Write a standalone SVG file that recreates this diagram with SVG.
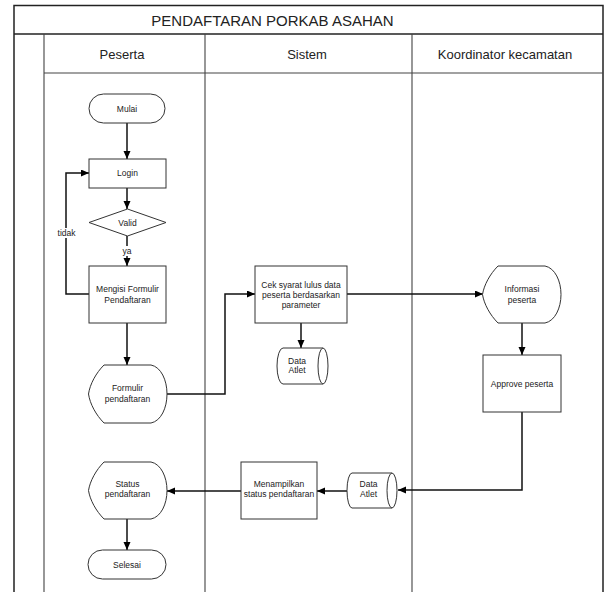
<svg xmlns="http://www.w3.org/2000/svg" width="606" height="592" viewBox="0 0 606 592">
<defs>
<marker id="arr" markerUnits="userSpaceOnUse" markerWidth="9" markerHeight="8" refX="8" refY="3.5" orient="auto">
<path d="M0,0 L8,3.5 L0,7 Z" fill="#000"/>
</marker>
<style>
.frame{fill:none;stroke:#222;stroke-width:1.5}
.lane{fill:none;stroke:#444;stroke-width:1.1}
.shape{fill:#fff;stroke:#333;stroke-width:1}
.con{fill:none;stroke:#111;stroke-width:1.5;marker-end:url(#arr)}
.t{font-family:"Liberation Sans",Arial,sans-serif;font-size:8.5px;fill:#222;text-anchor:middle}
.h{font-family:"Liberation Sans",Arial,sans-serif;font-size:13px;fill:#222;text-anchor:middle}
.ttl{font-family:"Liberation Sans",Arial,sans-serif;font-size:15px;fill:#222;text-anchor:middle}
</style>
</defs>
<rect width="606" height="592" fill="#fff"/>
<g id="pool">
<path class="frame" d="M14,600 V5.5 H603 V600"/>
<path class="frame" d="M14,34 H603"/>
<path class="lane" d="M44,34 V600 M205,34 V600 M412,34 V600 M44,73 H603"/>
<text class="ttl" x="272.5" y="26">PENDAFTARAN PORKAB ASAHAN</text>
<text class="h" x="122" y="58.5">Peserta</text>
<text class="h" x="307" y="58.5">Sistem</text>
<text class="h" x="505" y="58.5">Koordinator kecamatan</text>
</g>
<g id="connectors">
<path class="con" d="M127,123 V159"/>
<path class="con" d="M127,188 V209"/>
<path class="con" d="M127,236 V266"/>
<path class="con" d="M89,294 H66 V173 H89"/>
<path class="con" d="M127,323 V365"/>
<path class="con" d="M167,394 H225 V294 H255"/>
<path class="con" d="M301,323 V348"/>
<path class="con" d="M347,294 H483"/>
<path class="con" d="M522,323 V355"/>
<path class="con" d="M522,412 V490 H398"/>
<path class="con" d="M347,491 H317"/>
<path class="con" d="M241,491 H167"/>
<path class="con" d="M127,519 V550"/>
<rect x="55" y="228" width="23" height="10" fill="#fff"/>
<text class="t" x="66.5" y="236">tidak</text>
<rect x="121" y="246" width="12" height="10" fill="#fff"/>
<text class="t" x="127" y="253.5">ya</text>
</g>
<g id="mulai">
<rect class="shape" x="89" y="94" width="76" height="29" rx="14.5"/>
<text class="t" x="127" y="112">Mulai</text>
</g>
<g id="login">
<rect class="shape" x="89" y="159" width="77" height="29"/>
<text class="t" x="127.5" y="176">Login</text>
</g>
<g id="valid">
<path class="shape" d="M127.5,209 L166,222.5 L127.5,236 L89,222.5 Z"/>
<text class="t" x="127.5" y="225.5">Valid</text>
</g>
<g id="mengisi">
<rect class="shape" x="89" y="266" width="77" height="57"/>
<text class="t" x="127.5" y="292.3">Mengisi Formulir</text>
<text class="t" x="127.5" y="303">Pendaftaran</text>
</g>
<g id="formulir">
<path class="shape" d="M104,365 L151,365 C161,367 167,380 167,394 C167,408 161,421 151,423 L104,423 C96,415 90,404 88.5,394 C90,384 96,373 104,365 Z"/>
<text class="t" x="127.5" y="391.3">Formulir</text>
<text class="t" x="127.5" y="402.3">pendaftaran</text>
</g>
<g id="status">
<path class="shape" d="M104,462 L151,462 C161,464 167,477 167,490.5 C167,504 161,517 151,519 L104,519 C96,511 90,500 88.5,490.5 C90,481 96,470 104,462 Z"/>
<text class="t" x="127.5" y="487.3">Status</text>
<text class="t" x="127.5" y="497.3">pendaftaran</text>
</g>
<g id="selesai">
<rect class="shape" x="88" y="550" width="78" height="29" rx="14.5"/>
<text class="t" x="127" y="567.5">Selesai</text>
</g>
<g id="cek">
<rect class="shape" x="255" y="266" width="92" height="57"/>
<text class="t" x="301" y="287.5">Cek syarat lulus data</text>
<text class="t" x="301" y="297.8">peserta berdasarkan</text>
<text class="t" x="301" y="308">parameter</text>
</g>
<g id="data-atlet-1">
<path class="shape" d="M283,348 L323,348 A5,18 0 0 1 323,384 L283,384 A6,18 0 0 1 283,348 Z"/>
<path class="shape" d="M323,348 A5,18 0 0 0 323,384"/>
<text class="t" x="297" y="363.7">Data</text>
<text class="t" x="297" y="373">Atlet</text>
</g>
<g id="informasi">
<path class="shape" d="M498,266 L545,266 C555,268 561,281 561,294.5 C561,308 555,321 545,323 L498,323 C490,315 484,304 482.5,294.5 C484,285 490,274 498,266 Z"/>
<text class="t" x="522" y="292">Informasi</text>
<text class="t" x="522" y="303">peserta</text>
</g>
<g id="approve">
<rect class="shape" x="483" y="355" width="78" height="57"/>
<text class="t" x="522" y="386.5">Approve peserta</text>
</g>
<g id="data-atlet-2">
<path class="shape" d="M352,473 L392,473 A5,17.5 0 0 1 392,508 L352,508 A5,17.5 0 0 1 352,473 Z"/>
<path class="shape" d="M392,473 A5,17.5 0 0 0 392,508"/>
<text class="t" x="368.5" y="487.3">Data</text>
<text class="t" x="368.5" y="497.3">Atlet</text>
</g>
<g id="menampilkan">
<rect class="shape" x="241" y="462" width="76" height="57"/>
<text class="t" x="279" y="487.3">Menampilkan</text>
<text class="t" x="279" y="497.3">status pendaftaran</text>
</g>
</svg>
